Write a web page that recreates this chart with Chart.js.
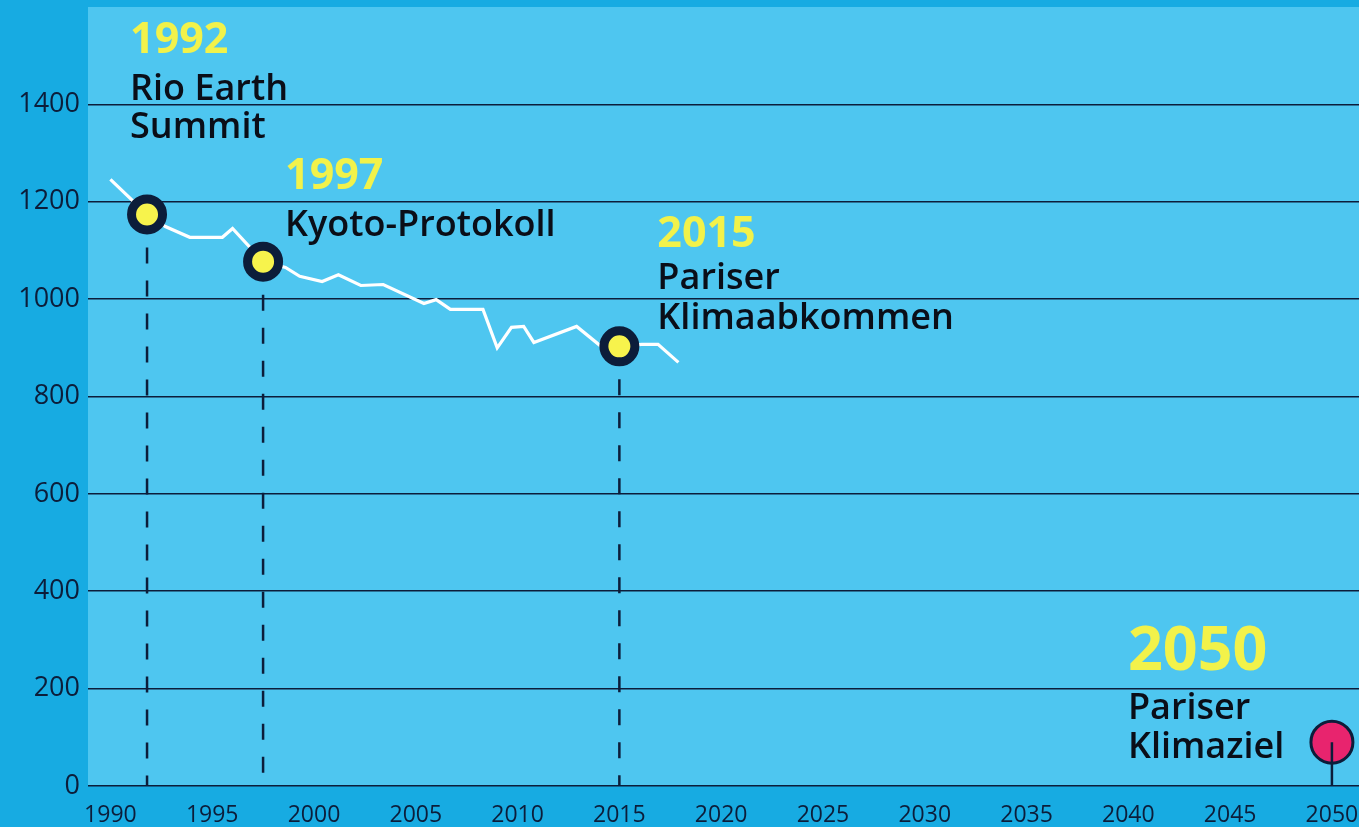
<!DOCTYPE html>
<html>
<head>
<meta charset="utf-8">
<script src="https://cdn.jsdelivr.net/npm/chart.js@4"></script>
<style>
html,body{margin:0;padding:0;background:#17abe2;overflow:hidden;}
canvas{display:block;}
</style>
</head>
<body>
<canvas id="c" width="1359" height="827"></canvas>
<script>
// ---- data ----
const emissionYears = [1990, 1991.8, 1992.7, 1993.9, 1995.5, 1996.0, 1997.5, 1998.6, 1999.3, 2000.4, 2001.2, 2002.3, 2003.4, 2005.4, 2006.0, 2006.7, 2008.3, 2009.0, 2009.7, 2010.3, 2010.8, 2012.9, 2014.1, 2015.0, 2016.1, 2016.9, 2017.9];
const emissionValues = [1246, 1174, 1149, 1127, 1127, 1145, 1077, 1065, 1047, 1036, 1050, 1028, 1030, 991, 999, 979, 979, 900, 942, 944, 911, 944, 903, 903, 907, 907, 870];

const eventYears = [1991.8, 1997.5, 2015.0];
const eventValues = [1174, 1077, 903];
const eventLabels = ['1992', '1997', '2015'];
const eventNames = [['Rio Earth', 'Summit'], ['Kyoto-Protokoll'], ['Pariser', 'Klimaabkommen']];

const goalYear = 2050;
const goalValue = 90;
const goalLabel = '2050';
const goalName = ['Pariser', 'Klimaziel'];

const yTicks = [0, 200, 400, 600, 800, 1000, 1200, 1400];
const xTicks = [1990, 1995, 2000, 2005, 2010, 2015, 2020, 2025, 2030, 2035, 2040, 2045, 2050];

// ---- label layout (pixel offsets relative to each marker) ----
const labelLayout = [
  {dx: -17, yearBase: -161, lineBases: [-114, -76], yearSize: 43},
  {dx: 22, yearBase: -73, lineBases: [-26], yearSize: 43},
  {dx: 38, yearBase: -99, lineBases: [-57, -17], yearSize: 43},
  {dx: -204, yearBase: -72, lineBases: [-23, 16], yearSize: 61}
];

const NAVY = '#0c1d3a';
const FONT = '"Open Sans", "Noto Sans", sans-serif';

const lineData = emissionYears.map((x, i) => ({x, y: emissionValues[i]}));
const eventData = eventYears.map((x, i) => ({x, y: eventValues[i]}));

const dropDatasets = eventYears.map((x, i) => ({
  type: 'line',
  data: [{x, y: eventValues[i]}, {x, y: 0}],
  borderColor: NAVY,
  borderWidth: 2.5,
  borderDash: [16, 17],
  pointRadius: 0,
  order: 5
}));

const bgPlugin = {
  id: 'bg',
  beforeDraw(chart) {
    const {ctx, chartArea: a} = chart;
    ctx.save();
    ctx.fillStyle = '#4ec6f0';
    ctx.fillRect(a.left, a.top, a.right - a.left, a.bottom - a.top);
    ctx.restore();
  }
};

const textPlugin = {
  id: 'texts',
  afterDatasetsDraw(chart) {
    const {ctx, scales: {x, y}} = chart;
    const anchors = eventYears.map((yr, i) => [yr, eventValues[i], eventLabels[i], eventNames[i]]);
    anchors.push([goalYear, goalValue, goalLabel, goalName]);
    ctx.save();
    ctx.textAlign = 'left';
    ctx.textBaseline = 'alphabetic';
    anchors.forEach((a, i) => {
      const L = labelLayout[i];
      const px = x.getPixelForValue(a[0]);
      const py = y.getPixelForValue(a[1]);
      ctx.fillStyle = '#f2f24a';
      ctx.font = `700 ${L.yearSize}px ${FONT}`;
      ctx.fillText(a[2], px + L.dx, py + L.yearBase);
      ctx.fillStyle = '#0a0e18';
      ctx.font = `600 36px ${FONT}`;
      a[3].forEach((t, j) => ctx.fillText(t, px + L.dx, py + L.lineBases[j]));
    });
    ctx.restore();
  }
};

function zeroPad(s) {
  s.paddingTop = 0; s.paddingBottom = 0; s.paddingLeft = 0; s.paddingRight = 0;
}

new Chart(document.getElementById('c'), {
  type: 'scatter',
  data: {
    datasets: [
      {
        type: 'line',
        data: [{x: goalYear, y: goalValue}, {x: goalYear, y: 0}],
        borderColor: NAVY,
        borderWidth: 2.5,
        pointRadius: 0,
        order: 0
      },
      {
        data: eventData,
        pointRadius: 15.5,
        pointBackgroundColor: '#f7f34c',
        pointBorderColor: NAVY,
        pointBorderWidth: 9,
        order: 1
      },
      {
        data: [{x: goalYear, y: goalValue}],
        pointRadius: 21,
        pointBackgroundColor: '#e8246e',
        pointBorderColor: NAVY,
        pointBorderWidth: 3,
        order: 1
      },
      {
        type: 'line',
        data: lineData,
        borderColor: '#ffffff',
        borderWidth: 3.2,
        pointRadius: 0,
        tension: 0,
        order: 3
      },
      ...dropDatasets
    ]
  },
  options: {
    responsive: false,
    animation: false,
    devicePixelRatio: 1,
    layout: {autoPadding: false, padding: {top: 7, left: 0, right: 0, bottom: 0}},
    plugins: {legend: {display: false}, tooltip: {enabled: false}},
    scales: {
      x: {
        type: 'linear',
        min: 1988.9,
        max: 2051.33,
        afterBuildTicks(s) { s.ticks = xTicks.map(v => ({value: v})); },
        afterFit(s) { s.height = 41; zeroPad(s); },
        grid: {display: false},
        border: {display: false},
        ticks: {
          color: NAVY,
          font: {family: FONT, size: 23},
          padding: 8,
          maxRotation: 0,
          autoSkip: false,
          callback: v => String(v)
        }
      },
      y: {
        min: 0,
        max: 1600,
        afterBuildTicks(s) { s.ticks = yTicks.map(v => ({value: v})); },
        afterFit(s) { s.width = 88; zeroPad(s); },
        grid: {color: NAVY, lineWidth: 1.6, drawTicks: false},
        border: {display: false},
        ticks: {
          color: NAVY,
          font: {family: FONT, size: 27},
          padding: 8,
          callback: v => String(v)
        }
      }
    }
  },
  plugins: [bgPlugin, textPlugin]
});
</script>
</body>
</html>
